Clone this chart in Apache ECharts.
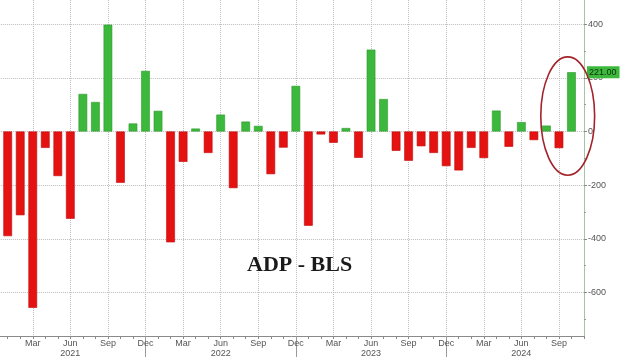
<!DOCTYPE html>
<html><head><meta charset="utf-8">
<script src="https://cdn.jsdelivr.net/npm/echarts@6/dist/echarts.min.js"></script>
<style>html,body{margin:0;padding:0;background:#fff;overflow:hidden}#c{width:620px;height:357px}</style>
</head><body><div id="c"></div>
<script>
// ---- data ----
const categories = [
  'Dec 2020',
  'Jan 2021','Feb 2021','Mar 2021','Apr 2021','May 2021','Jun 2021','Jul 2021','Aug 2021','Sep 2021','Oct 2021','Nov 2021','Dec 2021',
  'Jan 2022','Feb 2022','Mar 2022','Apr 2022','May 2022','Jun 2022','Jul 2022','Aug 2022','Sep 2022','Oct 2022','Nov 2022','Dec 2022',
  'Jan 2023','Feb 2023','Mar 2023','Apr 2023','May 2023','Jun 2023','Jul 2023','Aug 2023','Sep 2023','Oct 2023','Nov 2023','Dec 2023',
  'Jan 2024','Feb 2024','Mar 2024','Apr 2024','May 2024','Jun 2024','Jul 2024','Aug 2024','Sep 2024','Oct 2024','Nov 2024'
];
const adpMinusBls = [
  null,
  -390, -312, -657, -61, -166, -325, 140, 110, 398, -191, 30, 226,
  77, -413, -113, 11, -80, 63, -211, 37, 21, -159, -60, 170,
  -351, -11, -42, 13, -98, 305, 121, -72, -109, -55, -80, -129,
  -145, -61, -99, 78, -57, 35, -32, 22, -62, 221,
  null
];
const xLabelMonths = ['Mar','Jun','Sep','Dec'];
const yearLabelMonth = 'Jun';
const yearSepMonth = 'Dec';
const yTickValues = [-600, -400, -200, 0, 200, 400];
const yMinorTickValues = [-700, -500, -300, -100, 100, 300];
const yMin = -762, yMax = 490;
const lastValueLabel = 221;
const chartTitle = 'ADP - BLS';
// highlighted region (annotation ellipse) in data units
const ellipseIdx = [42.55, 46.85];   // category index span (Jan 2021 = 0)
const ellipseVal = [278, -163];      // value span

// ---- chart ----
const RED = '#e51212', GREEN = '#3cb83c';
const chart = echarts.init(document.getElementById('c'), null, {renderer: 'canvas'});
const showLabel = (i, v) => i > 0 && xLabelMonths.indexOf(v.split(' ')[0]) >= 0;
const isSep = (i, v) => v.split(' ')[0] === yearSepMonth;

const option = {
  animation: false,
  backgroundColor: '#fff',
  textStyle: {fontFamily: 'Liberation Sans, DejaVu Sans, sans-serif'},
  title: {
    text: chartTitle, left: 247, top: 254, padding: 0,
    textStyle: {fontFamily: 'Liberation Serif, DejaVu Serif, serif', fontWeight: 'bold', fontSize: 22, color: '#1a1a1a'}
  },
  grid: {left: -4.83, right: 36, top: 0, bottom: 21, containLabel: false, outerBoundsMode: 'none'},
  xAxis: [{
    type: 'category', data: categories, boundaryGap: false, position: 'bottom',
    axisLine: {onZero: false, lineStyle: {color: '#8a8a8a', width: 1}},
    axisTick: {interval: 0, length: 3, lineStyle: {color: '#8a8a8a'}},
    axisLabel: {
      interval: showLabel, fontSize: 9, color: '#555', margin: 3, lineHeight: 10,
      formatter: v => { const p = v.split(' '); return p[0] === yearLabelMonth ? p[0] + '\n' + p[1] : p[0]; }
    },
    splitLine: {show: true, interval: showLabel, lineStyle: {type: 'dotted', color: '#bdbdbd', width: 1}}
  }, {
    type: 'category', data: categories, boundaryGap: false, position: 'bottom',
    axisLine: {show: false, onZero: false},
    axisTick: {interval: isSep, length: 22, lineStyle: {color: '#9a9a9a'}},
    axisLabel: {show: false},
    splitLine: {show: false}
  }],
  yAxis: [{
    type: 'value', position: 'right', min: yMin, max: yMax,
    axisLine: {show: true, onZero: false, lineStyle: {color: '#a9c4a2', width: 1}},
    axisTick: {show: true, customValues: yTickValues, length: 3, lineStyle: {color: '#8a8a8a'}},
    axisLabel: {customValues: yTickValues, fontSize: 9, color: '#555', margin: 4},
    splitLine: {show: true, lineStyle: {type: 'dotted', color: '#bdbdbd', width: 1}}
  }, {
    type: 'value', position: 'right', min: yMin, max: yMax,
    axisLine: {show: false, onZero: false},
    axisTick: {show: true, customValues: yMinorTickValues, length: 2, lineStyle: {color: '#9a9a9a'}},
    axisLabel: {show: false},
    splitLine: {show: false}
  }],
  series: [{
    type: 'bar', xAxisIndex: 0, yAxisIndex: 0, barWidth: 8.7,
    data: adpMinusBls.map(v => v === null ? null : {
      value: v,
      itemStyle: {color: v >= 0 ? GREEN : RED, borderColor: v >= 0 ? '#2f9a2f' : '#c00a0a', borderWidth: 0.6}
    }),
    markLine: {
      silent: true, symbol: 'none', z: 50,
      lineStyle: {width: 0, color: 'rgba(0,0,0,0)'},
      label: {
        show: true, position: 'end', distance: 3, formatter: p => Number(p.value).toFixed(2),
        backgroundColor: GREEN, color: '#0f2f0f', fontSize: 9, padding: [2, 3, 1, 2]
      },
      data: [{yAxis: lastValueLabel}]
    }
  }]
};
chart.setOption(option);

// annotation ellipse computed through the axes
const x0 = chart.convertToPixel({xAxisIndex: 0}, categories[0]);
const x1 = chart.convertToPixel({xAxisIndex: 0}, categories[categories.length - 1]);
const step = (x1 - x0) / (categories.length - 1);
const ix = i => x0 + (i + 1) * step;
const yTop = chart.convertToPixel({yAxisIndex: 0}, ellipseVal[0]);
const yBot = chart.convertToPixel({yAxisIndex: 0}, ellipseVal[1]);
const exL = ix(ellipseIdx[0]), exR = ix(ellipseIdx[1]);
chart.setOption({
  graphic: [{
    type: 'ellipse', z: 100,
    shape: {cx: (exL + exR) / 2, cy: (yTop + yBot) / 2, rx: (exR - exL) / 2, ry: (yBot - yTop) / 2},
    style: {fill: 'none', stroke: '#a3232b', lineWidth: 1.6}
  }]
});
</script>
</body></html>
